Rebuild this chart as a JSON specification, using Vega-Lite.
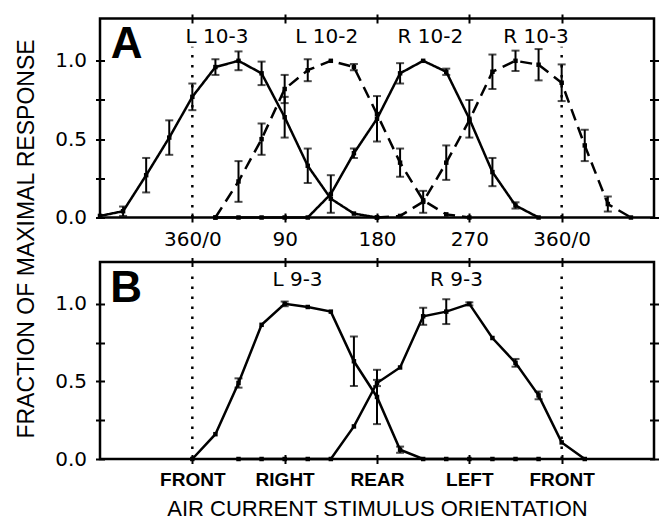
{
  "$schema": "https://vega.github.io/schema/vega-lite/v6.json",
  "background": "white",
  "padding": {"left": 13, "top": 11.5, "right": 5, "bottom": 0},
  "bounds": "flush",
  "spacing": 44.5,
  "config": {
    "view": {"stroke": "black", "strokeWidth": 2.5},
    "axis": {"domain": false, "grid": false, "ticks": true, "tickColor": "black", "tickWidth": 2, "tickSize": 9, "offset": -4.5, "labelColor": "black", "labelFont": "DejaVu Sans", "labelFontSize": 20, "labelPadding": 7, "titleColor": "black", "titleFontWeight": "normal", "titleFont": "Liberation Sans"},
    "axisLeft": {"labelPadding": 9}
  },
  "datasets": {
    "curvesA": [
      {"cell": "L 10-3", "deg": -90, "r": 0.01},
      {"cell": "L 10-3", "deg": -67.5, "r": 0.04, "err": 0.03},
      {"cell": "L 10-3", "deg": -45, "r": 0.27, "err": 0.11},
      {"cell": "L 10-3", "deg": -22.5, "r": 0.51, "err": 0.11},
      {"cell": "L 10-3", "deg": 0, "r": 0.77, "err": 0.085},
      {"cell": "L 10-3", "deg": 22.5, "r": 0.96, "err": 0.05},
      {"cell": "L 10-3", "deg": 45, "r": 1.0, "err": 0.06},
      {"cell": "L 10-3", "deg": 67.5, "r": 0.92, "err": 0.075},
      {"cell": "L 10-3", "deg": 90, "r": 0.64, "err": 0.13},
      {"cell": "L 10-3", "deg": 112.5, "r": 0.33, "err": 0.11},
      {"cell": "L 10-3", "deg": 135, "r": 0.12},
      {"cell": "L 10-3", "deg": 157.5, "r": 0.025},
      {"cell": "L 10-3", "deg": 180, "r": 0},
      {"cell": "L 10-2", "deg": 22.5, "r": 0},
      {"cell": "L 10-2", "deg": 45, "r": 0.23, "err": 0.13},
      {"cell": "L 10-2", "deg": 67.5, "r": 0.5, "err": 0.1},
      {"cell": "L 10-2", "deg": 90, "r": 0.82, "err": 0.09},
      {"cell": "L 10-2", "deg": 112.5, "r": 0.94, "err": 0.07},
      {"cell": "L 10-2", "deg": 135, "r": 1.0},
      {"cell": "L 10-2", "deg": 157.5, "r": 0.96, "err": 0.02},
      {"cell": "L 10-2", "deg": 180, "r": 0.66},
      {"cell": "L 10-2", "deg": 202.5, "r": 0.35, "err": 0.09},
      {"cell": "L 10-2", "deg": 225, "r": 0.11},
      {"cell": "L 10-2", "deg": 247.5, "r": 0.02},
      {"cell": "L 10-2", "deg": 270, "r": 0},
      {"cell": "R 10-2", "deg": 22.5, "r": 0},
      {"cell": "R 10-2", "deg": 45, "r": 0},
      {"cell": "R 10-2", "deg": 67.5, "r": 0},
      {"cell": "R 10-2", "deg": 90, "r": 0},
      {"cell": "R 10-2", "deg": 112.5, "r": 0},
      {"cell": "R 10-2", "deg": 135, "r": 0.15, "err": 0.12},
      {"cell": "R 10-2", "deg": 157.5, "r": 0.41, "err": 0.03},
      {"cell": "R 10-2", "deg": 180, "r": 0.63, "err": 0.145},
      {"cell": "R 10-2", "deg": 202.5, "r": 0.92, "err": 0.065},
      {"cell": "R 10-2", "deg": 225, "r": 1.0},
      {"cell": "R 10-2", "deg": 247.5, "r": 0.93, "err": 0.02},
      {"cell": "R 10-2", "deg": 270, "r": 0.63, "err": 0.12},
      {"cell": "R 10-2", "deg": 292.5, "r": 0.29, "err": 0.09},
      {"cell": "R 10-2", "deg": 315, "r": 0.077, "err": 0.02},
      {"cell": "R 10-2", "deg": 337.5, "r": 0},
      {"cell": "R 10-3", "deg": 180, "r": 0},
      {"cell": "R 10-3", "deg": 202.5, "r": 0.01},
      {"cell": "R 10-3", "deg": 225, "r": 0.1, "err": 0.07},
      {"cell": "R 10-3", "deg": 247.5, "r": 0.35, "err": 0.11},
      {"cell": "R 10-3", "deg": 270, "r": 0.62},
      {"cell": "R 10-3", "deg": 292.5, "r": 0.93, "err": 0.11},
      {"cell": "R 10-3", "deg": 315, "r": 1.0, "err": 0.065},
      {"cell": "R 10-3", "deg": 337.5, "r": 0.975, "err": 0.1},
      {"cell": "R 10-3", "deg": 360, "r": 0.86, "err": 0.117},
      {"cell": "R 10-3", "deg": 382.5, "r": 0.46, "err": 0.1},
      {"cell": "R 10-3", "deg": 405, "r": 0.086, "err": 0.048},
      {"cell": "R 10-3", "deg": 427.5, "r": 0}
    ],
    "curvesB": [
      {"cell": "L 9-3", "deg": 0, "r": 0},
      {"cell": "L 9-3", "deg": 22.5, "r": 0.16},
      {"cell": "L 9-3", "deg": 45, "r": 0.49, "err": 0.03},
      {"cell": "L 9-3", "deg": 67.5, "r": 0.865},
      {"cell": "L 9-3", "deg": 90, "r": 1.0, "err": 0.015},
      {"cell": "L 9-3", "deg": 112.5, "r": 0.98},
      {"cell": "L 9-3", "deg": 135, "r": 0.95},
      {"cell": "L 9-3", "deg": 157.5, "r": 0.63, "err": 0.16},
      {"cell": "L 9-3", "deg": 180, "r": 0.4, "err": 0.175},
      {"cell": "L 9-3", "deg": 202.5, "r": 0.06, "err": 0.02},
      {"cell": "L 9-3", "deg": 225, "r": 0},
      {"cell": "L 9-3", "deg": 247.5, "r": 0},
      {"cell": "L 9-3", "deg": 270, "r": 0},
      {"cell": "L 9-3", "deg": 292.5, "r": 0},
      {"cell": "L 9-3", "deg": 315, "r": 0},
      {"cell": "L 9-3", "deg": 337.5, "r": 0},
      {"cell": "R 9-3", "deg": 45, "r": 0},
      {"cell": "R 9-3", "deg": 67.5, "r": 0},
      {"cell": "R 9-3", "deg": 90, "r": 0},
      {"cell": "R 9-3", "deg": 112.5, "r": 0},
      {"cell": "R 9-3", "deg": 135, "r": 0},
      {"cell": "R 9-3", "deg": 157.5, "r": 0.21},
      {"cell": "R 9-3", "deg": 180, "r": 0.49, "err": 0.02},
      {"cell": "R 9-3", "deg": 202.5, "r": 0.59},
      {"cell": "R 9-3", "deg": 225, "r": 0.92, "err": 0.055},
      {"cell": "R 9-3", "deg": 247.5, "r": 0.95, "err": 0.08},
      {"cell": "R 9-3", "deg": 270, "r": 1.0, "err": 0.01},
      {"cell": "R 9-3", "deg": 292.5, "r": 0.78},
      {"cell": "R 9-3", "deg": 315, "r": 0.62, "err": 0.025},
      {"cell": "R 9-3", "deg": 337.5, "r": 0.41, "err": 0.025},
      {"cell": "R 9-3", "deg": 360, "r": 0.107},
      {"cell": "R 9-3", "deg": 382.5, "r": 0}
    ],
    "guides": [{"deg": 0}, {"deg": 360}],
    "labelsA": [
      {"label": "L 10-3", "deg": 24, "r": 1.15},
      {"label": "L 10-2", "deg": 131, "r": 1.15},
      {"label": "R 10-2", "deg": 232, "r": 1.15},
      {"label": "R 10-3", "deg": 335, "r": 1.15}
    ],
    "labelsB": [
      {"label": "L 9-3", "deg": 102.5, "r": 1.155},
      {"label": "R 9-3", "deg": 257.5, "r": 1.155}
    ]
  },
  "vconcat": [
    {
      "width": 554,
      "height": 199,
      "resolve": {"axis": {"x": "independent", "y": "independent"}},
      "layer": [
        {
          "data": {"name": "guides"},
          "mark": {"type": "rule", "strokeDash": [2.5, 7.5], "strokeWidth": 2.5, "color": "black"},
          "encoding": {
            "x": {"field": "deg", "type": "quantitative", "scale": {"domain": [-90, 450], "nice": false, "zero": false}, "axis": null},
            "y": {"datum": 0, "type": "quantitative", "scale": {"domain": [0, 1.27], "nice": false}, "axis": null},
            "y2": {"datum": 1.09}
          }
        },
        {
          "data": {"name": "curvesA"},
          "mark": {"type": "line", "color": "black", "strokeWidth": 2.5},
          "encoding": {
            "x": {"field": "deg", "type": "quantitative", "scale": {"domain": [-90, 450], "nice": false, "zero": false},
                  "axis": {"orient": "bottom", "values": [0, 90, 180, 270, 360], "labelExpr": "datum.value == 0 || datum.value == 360 ? '360/0' : format(datum.value, 'd')", "title": null}},
            "y": {"field": "r", "type": "quantitative", "scale": {"domain": [0, 1.27], "nice": false},
                  "axis": {"orient": "left", "values": [0, 0.25, 0.5, 0.75, 1], "labelExpr": "datum.value == 0.25 || datum.value == 0.75 ? '' : format(datum.value, '.1f')",
                           "title": "FRACTION OF MAXIMAL RESPONSE", "titleX": -71.5, "titleY": 220, "titleBaseline": "alphabetic", "titleAngle": -90, "titleFontSize": 23, "titleAlign": "center"}},
            "strokeDash": {"field": "cell", "type": "nominal", "scale": {"domain": ["L 10-3", "L 10-2", "R 10-2", "R 10-3"], "range": [[1, 0], [12, 7], [1, 0], [12, 7]]}, "legend": null}
          }
        },
        {
          "data": {"name": "curvesA"},
          "transform": [{"filter": "isValid(datum.err)"}],
          "mark": {"type": "errorbar", "color": "black", "thickness": 2, "ticks": {"size": 8}},
          "encoding": {
            "x": {"field": "deg", "type": "quantitative", "scale": {"domain": [-90, 450], "nice": false, "zero": false}, "axis": null},
            "y": {"field": "r", "type": "quantitative", "scale": {"domain": [0, 1.27], "nice": false}, "axis": null},
            "yError": {"field": "err"}
          }
        },
        {
          "data": {"name": "curvesA"},
          "mark": {"type": "point", "shape": "square", "filled": true, "color": "black", "size": 20, "opacity": 1},
          "encoding": {
            "x": {"field": "deg", "type": "quantitative", "scale": {"domain": [-90, 450], "nice": false, "zero": false},
                  "axis": {"orient": "top", "values": [0, 90, 180, 270, 360], "labels": false, "title": null}},
            "y": {"field": "r", "type": "quantitative", "scale": {"domain": [0, 1.27], "nice": false},
                  "axis": {"orient": "right", "values": [0, 0.25, 0.5, 0.75, 1], "labels": false, "title": null}}
          }
        },
        {
          "data": {"name": "labelsA"},
          "mark": {"type": "text", "font": "DejaVu Sans", "fontSize": 20, "color": "black", "align": "center", "baseline": "middle"},
          "encoding": {
            "x": {"field": "deg", "type": "quantitative", "scale": {"domain": [-90, 450], "nice": false, "zero": false}, "axis": null},
            "y": {"field": "r", "type": "quantitative", "scale": {"domain": [0, 1.27], "nice": false}, "axis": null},
            "text": {"field": "label"}
          }
        },
        {
          "data": {"values": [{"panel": "A"}]},
          "mark": {"type": "text", "font": "Liberation Sans", "fontWeight": "bold", "fontSize": 44, "color": "black", "align": "center", "baseline": "middle"},
          "encoding": {
            "x": {"datum": -64, "type": "quantitative", "scale": {"domain": [-90, 450], "nice": false, "zero": false}, "axis": null},
            "y": {"datum": 1.1, "type": "quantitative", "scale": {"domain": [0, 1.27], "nice": false}, "axis": null},
            "text": {"field": "panel"}
          }
        }
      ]
    },
    {
      "width": 554,
      "height": 197,
      "resolve": {"axis": {"x": "independent", "y": "independent"}},
      "layer": [
        {
          "data": {"name": "guides"},
          "mark": {"type": "rule", "strokeDash": [2.5, 7.5], "strokeWidth": 2.5, "color": "black"},
          "encoding": {
            "x": {"field": "deg", "type": "quantitative", "scale": {"domain": [-90, 450], "nice": false, "zero": false}, "axis": null},
            "y": {"datum": 0, "type": "quantitative", "scale": {"domain": [0, 1.27], "nice": false}, "axis": null},
            "y2": {"datum": 1.21}
          }
        },
        {
          "data": {"name": "curvesB"},
          "mark": {"type": "line", "color": "black", "strokeWidth": 2.5},
          "encoding": {
            "x": {"field": "deg", "type": "quantitative", "scale": {"domain": [-90, 450], "nice": false, "zero": false},
                  "axis": {"orient": "bottom", "values": [0, 90, 180, 270, 360], "labelExpr": "['FRONT','RIGHT','REAR','LEFT','FRONT'][round(datum.value / 90)]",
                           "labelFont": "Liberation Sans", "labelFontWeight": "bold", "labelFontSize": 19,
                           "title": "AIR CURRENT STIMULUS ORIENTATION", "titleFontSize": 22, "titleBaseline": "alphabetic", "titleY": 61}},
            "y": {"field": "r", "type": "quantitative", "scale": {"domain": [0, 1.27], "nice": false},
                  "axis": {"orient": "left", "values": [0, 0.25, 0.5, 0.75, 1], "labelExpr": "datum.value == 0.25 || datum.value == 0.75 ? '' : format(datum.value, '.1f')", "title": null}},
            "detail": {"field": "cell", "type": "nominal"}
          }
        },
        {
          "data": {"name": "curvesB"},
          "transform": [{"filter": "isValid(datum.err)"}],
          "mark": {"type": "errorbar", "color": "black", "thickness": 2, "ticks": {"size": 8}},
          "encoding": {
            "x": {"field": "deg", "type": "quantitative", "scale": {"domain": [-90, 450], "nice": false, "zero": false}, "axis": null},
            "y": {"field": "r", "type": "quantitative", "scale": {"domain": [0, 1.27], "nice": false}, "axis": null},
            "yError": {"field": "err"}
          }
        },
        {
          "data": {"name": "curvesB"},
          "mark": {"type": "point", "shape": "square", "filled": true, "color": "black", "size": 20, "opacity": 1},
          "encoding": {
            "x": {"field": "deg", "type": "quantitative", "scale": {"domain": [-90, 450], "nice": false, "zero": false},
                  "axis": {"orient": "top", "values": [0, 90, 180, 270, 360], "labels": false, "title": null}},
            "y": {"field": "r", "type": "quantitative", "scale": {"domain": [0, 1.27], "nice": false},
                  "axis": {"orient": "right", "values": [0, 0.25, 0.5, 0.75, 1], "labels": false, "title": null}}
          }
        },
        {
          "data": {"name": "labelsB"},
          "mark": {"type": "text", "font": "DejaVu Sans", "fontSize": 20, "color": "black", "align": "center", "baseline": "middle"},
          "encoding": {
            "x": {"field": "deg", "type": "quantitative", "scale": {"domain": [-90, 450], "nice": false, "zero": false}, "axis": null},
            "y": {"field": "r", "type": "quantitative", "scale": {"domain": [0, 1.27], "nice": false}, "axis": null},
            "text": {"field": "label"}
          }
        },
        {
          "data": {"values": [{"panel": "B"}]},
          "mark": {"type": "text", "font": "Liberation Sans", "fontWeight": "bold", "fontSize": 44, "color": "black", "align": "center", "baseline": "middle"},
          "encoding": {
            "x": {"datum": -64.5, "type": "quantitative", "scale": {"domain": [-90, 450], "nice": false, "zero": false}, "axis": null},
            "y": {"datum": 1.095, "type": "quantitative", "scale": {"domain": [0, 1.27], "nice": false}, "axis": null},
            "text": {"field": "panel"}
          }
        }
      ]
    }
  ]
}
